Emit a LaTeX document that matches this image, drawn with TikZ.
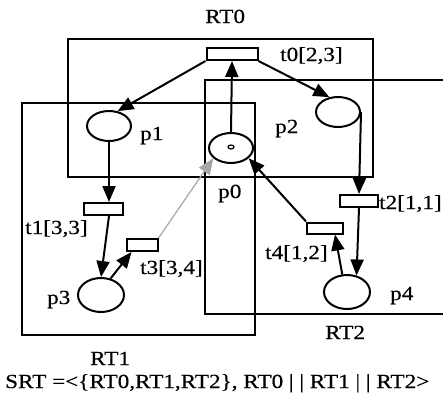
\documentclass[tikz,border=0pt]{standalone}
\usepackage{fontspec}
\setmainfont{Liberation Serif}[FakeStretch=1.16, FakeBold=0.4]
\usetikzlibrary{shapes.geometric, arrows.meta, positioning}

\begin{document}
\begin{tikzpicture}[x=1pt, y=-1pt,
  place/.style={draw, ellipse, line width=2pt, inner sep=0pt,
                minimum width=44pt, minimum height=30pt},
  trans/.style={draw, rectangle, line width=2pt, inner sep=0pt,
                minimum width=38pt, minimum height=12pt},
  region/.style={draw, line width=2pt},
  arc/.style={-{Triangle[length=16pt, width=13pt]}, line width=2pt},
  lbl/.style={font=\fontsize{20}{22}\selectfont, inner sep=0pt,
              anchor=base west},
]
\useasboundingbox (0,0) rectangle (443,397);

% regions
\draw[region] (68,39) rectangle (373,177);
\draw[region] (22,103) rectangle (255,335);
\draw[region] (443,80) -| (205,314) -- (443,314);

% places
\node[place] (p0) at (231,148) {};
\node[place] (p1) at (109,126) {};
\node[place] (p2) at (338,112) {};
\node[place, minimum width=46pt, minimum height=34pt] (p3) at (101,295) {};
\node[place, minimum width=46pt, minimum height=34pt] (p4) at (347,292) {};
\node[draw, ellipse, line width=1.2pt, minimum width=6pt, minimum height=4pt,
      inner sep=0pt] (tok) at (231,147) {};

% transitions
\node[trans, minimum width=51pt] (t0) at (232,54) {};
\node[trans, minimum width=39pt] (t1) at (103,209) {};
\node[trans, minimum width=31pt] (t3) at (142,245) {};
\node[trans, minimum width=36pt, minimum height=11pt] (t4) at (325,228) {};
\node[trans] (t2) at (359,201) {};

% labels
\node[lbl] (lrt0) at (205,23)  {RT0};
\node[lbl] (lt0)  at (280,61)  {t0[2,3]};
\node[lbl] (lp1)  at (140,140) {p1};
\node[lbl] (lp2)  at (275,133) {p2};
\node[lbl] (lp0)  at (218,198) {p0};
\node[lbl] (lt1)  at (25,234)  {t1[3,3]};
\node[lbl] (lt3)  at (140,274) {t3[3,4]};
\node[lbl] (lp3)  at (47,304)  {p3};
\node[lbl] (lt4)  at (265,259) {t4[1,2]};
\node[lbl] (lt2)  at (379,209) {t2[1,1]};
\node[lbl] (lp4)  at (390,300) {p4};
\node[lbl] (lrt2) at (325,339) {RT2};
\node[lbl] (lrt1) at (90,365)  {RT1};
\node[lbl] (lsrt) at (5,388)   {SRT =<\{RT0,RT1,RT2\}, RT0 | | RT1 | | RT2>};

% arcs
\draw[arc] (t0.south west) -- (p1.60);
\draw[arc] (t0.south east) -- (p2.120);
\draw[arc] (p0.north) -- (t0.south);
\draw[arc] (p1.south) -- (t1.north -| p1.south);
\draw[arc] (t1.south -| p1.south) -- (p3.north);
\draw[arc] (p3.60) -- ([xshift=6pt]t3.south west);
\draw[arc, line width=1.2pt, draw=gray!70] (t3.north east) -- (p0.210);
\draw[arc] (t4.north west) -- (p0.330);
\draw[arc] (p2.east) -- (t2.north);
\draw[arc] (t2.south) -- (p4.60);
\draw[arc] (p4.105) -- ([xshift=10pt]t4.south);
\end{tikzpicture}
\end{document}
